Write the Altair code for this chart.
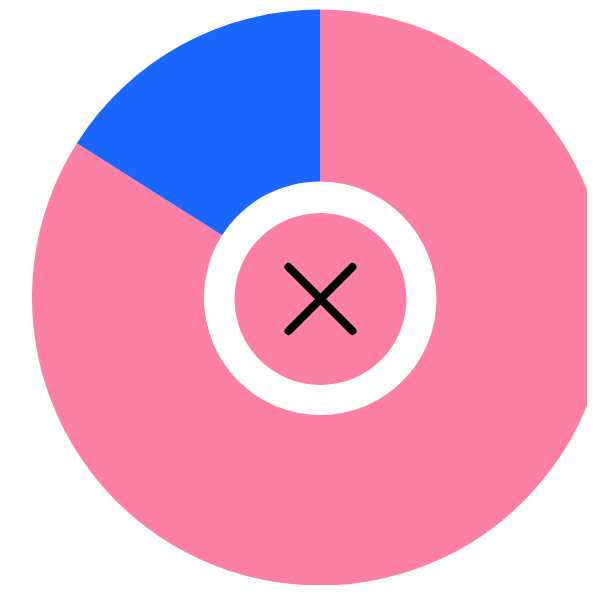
import altair as alt
import pandas as pd

categories = ["Pink share", "Blue share"]
values = [84, 16]
order = [0, 1]
colors = ["#FC80A6", "#1B66FF"]

df = pd.DataFrame({"category": categories, "value": values, "order": order})

CX, CY = 312, 289.5
ICX, ICY = 312.5, 291

donut = alt.Chart(df).mark_arc(radius=288, innerRadius=116, stroke=None).encode(
    theta=alt.Theta("value:Q", stack=True),
    order=alt.Order("order:Q"),
    color=alt.Color("category:N", scale=alt.Scale(domain=categories, range=colors), legend=None),
    x=alt.value(CX),
    y=alt.value(CY),
)

ring_hole = alt.Chart(pd.DataFrame({"k": [0]})).mark_circle(
    size=(2 * 116) ** 2, opacity=1, color="white"
).encode(x=alt.value(ICX), y=alt.value(ICY))

inner = alt.Chart(pd.DataFrame({"k": [0]})).mark_circle(
    size=(2 * 86) ** 2, opacity=1, color=colors[0]
).encode(x=alt.value(ICX), y=alt.value(ICY))

line1 = alt.Chart(pd.DataFrame({"k": [0]})).mark_rule(
    color="black", strokeWidth=8, strokeCap="round"
).encode(x=alt.value(ICX - 32), y=alt.value(ICY - 32), x2=alt.value(ICX + 32), y2=alt.value(ICY + 32))

line2 = alt.Chart(pd.DataFrame({"k": [0]})).mark_rule(
    color="black", strokeWidth=8, strokeCap="round"
).encode(x=alt.value(ICX + 32), y=alt.value(ICY - 32), x2=alt.value(ICX - 32), y2=alt.value(ICY + 32))

chart = alt.layer(donut, ring_hole, inner, line1, line2).properties(
    width=579, height=577, padding=0, autosize=alt.AutoSizeParams(type="none")
).configure_view(stroke=None)

chart.save("out.html", embed_options={"renderer": "svg", "actions": False})
